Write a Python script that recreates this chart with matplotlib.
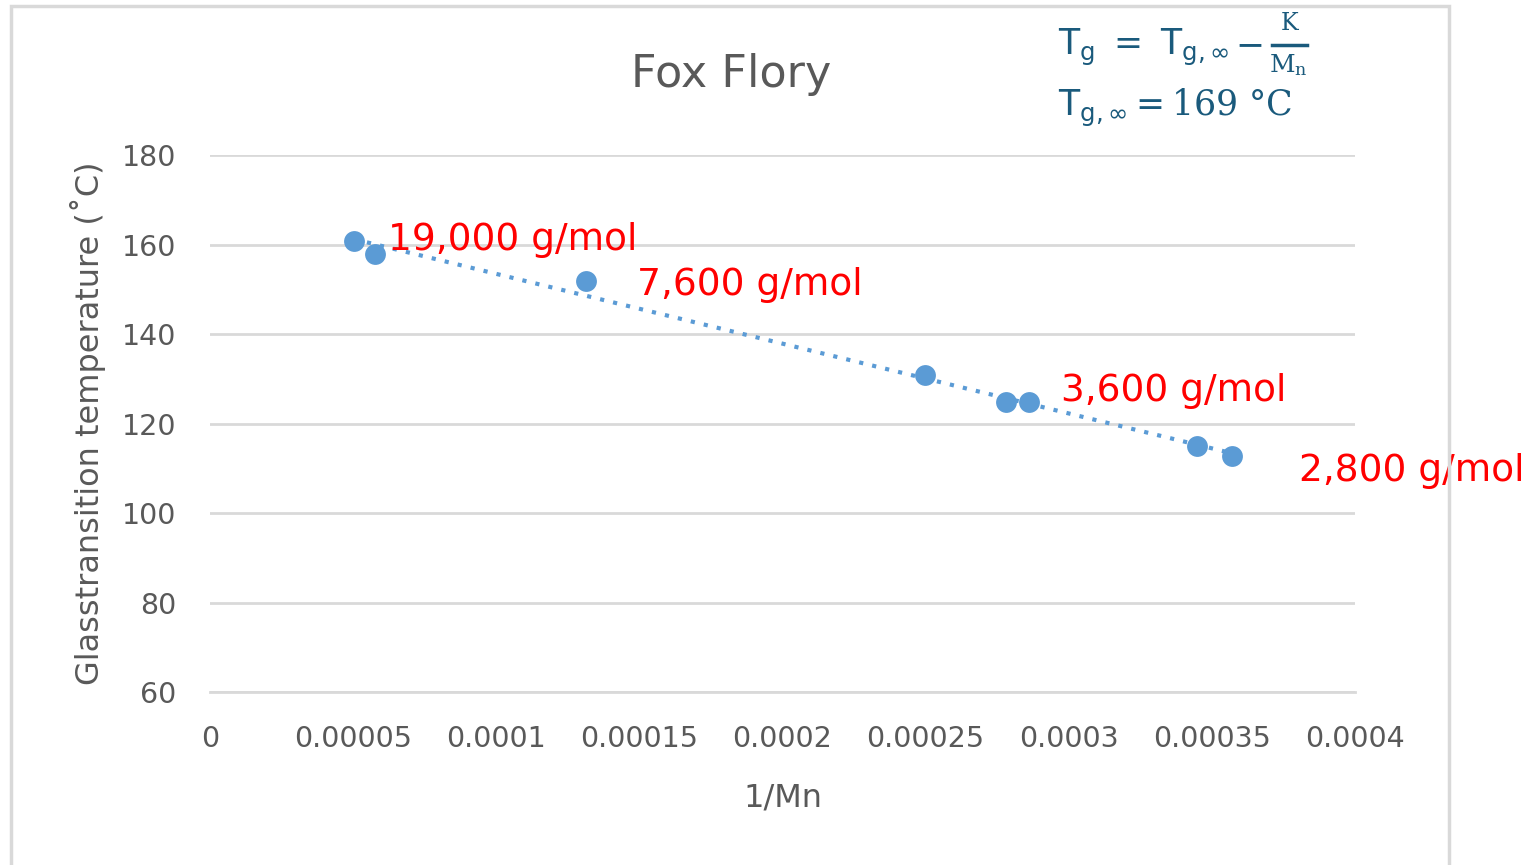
import matplotlib
matplotlib.use("Agg")
import matplotlib.pyplot as plt
import numpy as np
from matplotlib.patches import Rectangle
from matplotlib.lines import Line2D

inv_mn = [0.0000503, 0.0000576, 0.0001313, 0.0002498, 0.000278, 0.000286, 0.0003448, 0.000357]
tg = [160.8, 157.9, 151.8, 130.8, 124.8, 124.8, 115.0, 112.7]
label_texts = ["19,000 g/mol", "7,600 g/mol", "3,600 g/mol", "2,800 g/mol"]
label_x = [0.0000622, 0.0001492, 0.0002973, 0.0003804]
label_y = [161.0, 150.9, 127.3, 109.4]
xticks = [0, 0.00005, 0.0001, 0.00015, 0.0002, 0.00025, 0.0003, 0.00035, 0.0004]
xtick_labels = ["0", "0.00005", "0.0001", "0.00015", "0.0002", "0.00025", "0.0003", "0.00035", "0.0004"]
yticks = [60, 80, 100, 120, 140, 160, 180]

plt.rcParams['font.family'] = ['DejaVu Sans']
plt.rcParams['mathtext.fontset'] = 'dejavuserif'
gray = '#595959'
blue = '#5B9BD5'
teal = '#1A5A7C'

W, H = 1535, 865
fig = plt.figure(figsize=(15.35, 8.65), dpi=100)
fig.patch.set_facecolor('white')
fig.patches.append(Rectangle((11/W, -0.01), (1449-11)/W, 1 - 6/H + 0.01,
                             transform=fig.transFigure, fill=False,
                             edgecolor='#D9D9D9', lw=2.5, zorder=0))

ax = fig.add_axes([210/W, 1-692/H, 1145/W, 537/H])
ax.set_xlim(0, 0.0004)
ax.set_ylim(60, 180)
ax.set_xticks(xticks)
ax.set_xticklabels(xtick_labels)
ax.set_yticks(yticks)
ax.grid(axis='y', color='#D9D9D9', lw=2)
ax.set_axisbelow(True)
for s in ['left', 'right', 'top']:
    ax.spines[s].set_visible(False)
ax.spines['bottom'].set_color('#D9D9D9')
ax.spines['bottom'].set_linewidth(2)
ax.tick_params(axis='both', length=0, colors=gray, labelsize=20.5)
ax.tick_params(axis='x', pad=24)
ax.tick_params(axis='y', pad=24)

# trendline
coef = np.polyfit(inv_mn, tg, 1)
xs = np.array([min(inv_mn), max(inv_mn)])
ax.plot(xs, np.polyval(coef, xs), linestyle=(0, (1, 2.2)), color=blue, lw=3, zorder=2)
ax.plot(inv_mn, tg, 'o', color=blue, ms=15, zorder=3, markeredgewidth=0)

for t, x, y in zip(label_texts, label_x, label_y):
    ax.text(x, y, t, color='red', fontsize=27, va='center', ha='left', zorder=4, clip_on=False)

ax.set_xlabel("1/Mn", color=gray, fontsize=23, labelpad=21)
ax.set_ylabel("Glasstransition temperature (˚C)", color=gray, fontsize=23, labelpad=12)

fig.text(731/W, 1-75/H, "Fox Flory", ha='center', va='center', color=gray, fontsize=32)

# Fox-Flory equation
fig.text(1058/W, 1-47/H, r"$\mathsf{T_g}\ \mathsf{=}\ \mathsf{T_{g,\infty}}$",
         ha='left', va='center', color=teal, fontsize=25)
fig.text(1250/W, 1-45/H, "−", ha='center', va='center', color=teal, fontsize=25)
fig.text(1290/W, 1-24/H, "K", ha='center', va='center', color=teal, fontsize=17,
         family='DejaVu Serif')
fig.lines.append(Line2D([1272/W, 1307/W], [1-45/H, 1-45/H], transform=fig.transFigure,
                        color=teal, lw=2.5))
fig.text(1288/W, 1-65/H, r"$\mathrm{M_n}$", ha='center', va='center', color=teal, fontsize=18)
fig.text(1058/W, 1-108/H, r"$\mathsf{T_{g,\infty}} = \mathrm{169\ °C}$",
         ha='left', va='center', color=teal, fontsize=25)

fig.savefig("out.png", dpi=100)
